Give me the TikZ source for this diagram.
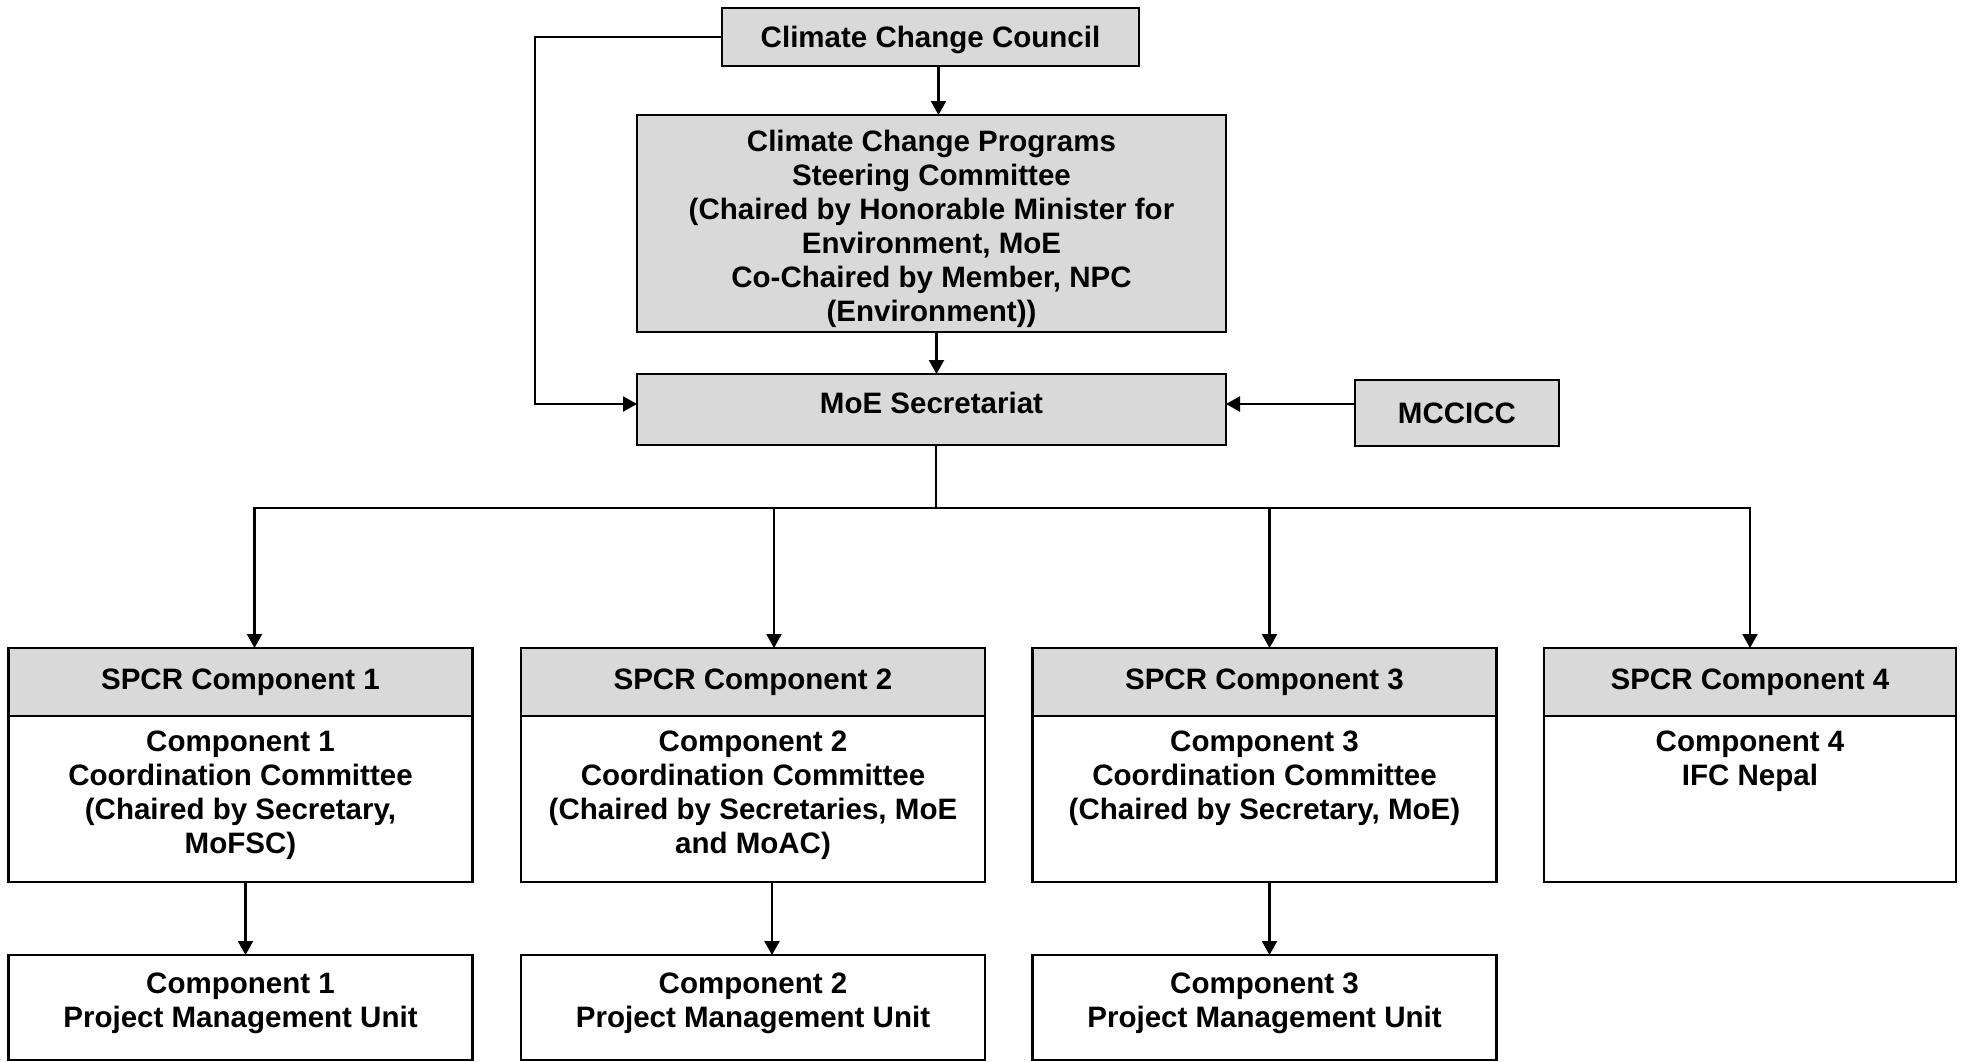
\documentclass[tikz,border=0pt]{standalone}
\usepackage{fontspec}
\setmainfont{Liberation Sans}
\usetikzlibrary{arrows.meta}
\usetikzlibrary{calc}

\definecolor{boxgray}{RGB}{217,217,217}

\tikzset{
  orgbox/.style={draw=black, line width=0.8pt, align=center, inner sep=0pt, outer sep=0pt,
    font=\fontsize{8.4}{9.7}\selectfont\bfseries},
  graybox/.style={orgbox, fill=boxgray},
  whitebox/.style={orgbox, fill=white},
  arr/.style={line width=0.6pt, -{Triangle[length=1.4mm,width=1.5mm]}},
  link/.style={line width=0.6pt}
}

% text held at the top of a component box
\newcommand{\toptext}[2]{\parbox[c][1.64cm][t]{#1}{\centering\vspace*{1.4mm}#2}}
% text moved up or down inside its box
\newcommand{\movetext}[2]{\raisebox{#1}[\height][\depth]{\begin{tabular}{@{}c@{}}#2\end{tabular}}}

\begin{document}
\begin{tikzpicture}
  \useasboundingbox (0,0) rectangle (19.65,-10.61);

  % top of the chart
  \node [graybox, minimum width=4.17cm, minimum height=0.58cm] (ccc) at (9.305,-0.37) {\movetext{-0.4mm}{Climate Change Council}};
  \node [graybox, minimum width=5.89cm, minimum height=2.17cm] (steer) at (9.315,-2.235)
    {\movetext{-0.6mm}{Climate Change Programs\\Steering Committee\\(Chaired by Honorable Minister for\\Environment, MoE\\Co-Chaired by Member, NPC\\(Environment))}};
  \node [graybox, minimum width=5.89cm, minimum height=0.71cm] (moe) at (9.315,-4.095) {\movetext{0.3mm}{MoE Secretariat}};
  \node [graybox, minimum width=2.04cm, minimum height=0.66cm] (mcc) at (14.57,-4.13) {MCCICC};

  % SPCR components
  \node [graybox, minimum width=4.64cm, minimum height=0.68cm] (h1) at (2.405,-6.82) {SPCR Component 1};
  \node [graybox, minimum width=4.64cm, minimum height=0.68cm] (h2) at (7.53,-6.82) {SPCR Component 2};
  \node [graybox, minimum width=4.64cm, minimum height=0.68cm] (h3) at (12.645,-6.82) {SPCR Component 3};
  \node [graybox, minimum width=4.12cm, minimum height=0.68cm] (h4) at (17.50,-6.82) {SPCR Component 4};

  \node [whitebox, anchor=north, minimum width=4.64cm, minimum height=1.66cm] (b1) at (h1.south)
    {\toptext{4.5cm}{Component 1\\Coordination Committee\\(Chaired by Secretary,\\MoFSC)}};
  \node [whitebox, anchor=north, minimum width=4.64cm, minimum height=1.66cm] (b2) at (h2.south)
    {\toptext{4.5cm}{Component 2\\Coordination Committee\\(Chaired by Secretaries, MoE\\and MoAC)}};
  \node [whitebox, anchor=north, minimum width=4.64cm, minimum height=1.66cm] (b3) at (h3.south)
    {\toptext{4.5cm}{Component 3\\Coordination Committee\\(Chaired by Secretary, MoE)}};
  \node [whitebox, anchor=north, minimum width=4.12cm, minimum height=1.66cm] (b4) at (h4.south)
    {\toptext{4cm}{Component 4\\IFC Nepal}};

  % project management units
  \node [whitebox, minimum width=4.64cm, minimum height=1.05cm] (p1) at (2.405,-10.075) {\movetext{0.35mm}{Component 1\\Project Management Unit}};
  \node [whitebox, minimum width=4.64cm, minimum height=1.05cm] (p2) at (7.53,-10.075) {\movetext{0.35mm}{Component 2\\Project Management Unit}};
  \node [whitebox, minimum width=4.64cm, minimum height=1.05cm] (p3) at (12.645,-10.075) {\movetext{0.35mm}{Component 3\\Project Management Unit}};

  % connectors
  \coordinate (lft) at (5.35,-0.37);
  \coordinate (bus) at (9.36,-5.08);

  \draw [arr] ([xshift=0.8mm]ccc.south) -- ([xshift=0.8mm]ccc.south |- steer.north);
  \draw [arr] ([xshift=0.5mm]steer.south) -- ([xshift=0.5mm]steer.south |- moe.north);
  \draw [arr] (ccc.west) -- (lft) |- ([yshift=0.55mm]moe.west);
  \draw [arr] ([yshift=0.55mm]mcc.west |- moe.east) -- ([yshift=0.55mm]moe.east);

  \draw [link] (bus |- moe.south) -- (bus);
  \foreach \c/\dx in {1/1.4mm,2/2.1mm,3/0.5mm,4/0mm}
    \draw [arr] (bus) -| ([xshift=\dx]h\c.north);

  \foreach \c/\dx in {1/0.5mm,2/1.9mm,3/0.5mm}
    \draw [arr] ([xshift=\dx]b\c.south) -- ([xshift=\dx]p\c.north);
\end{tikzpicture}
\end{document}
